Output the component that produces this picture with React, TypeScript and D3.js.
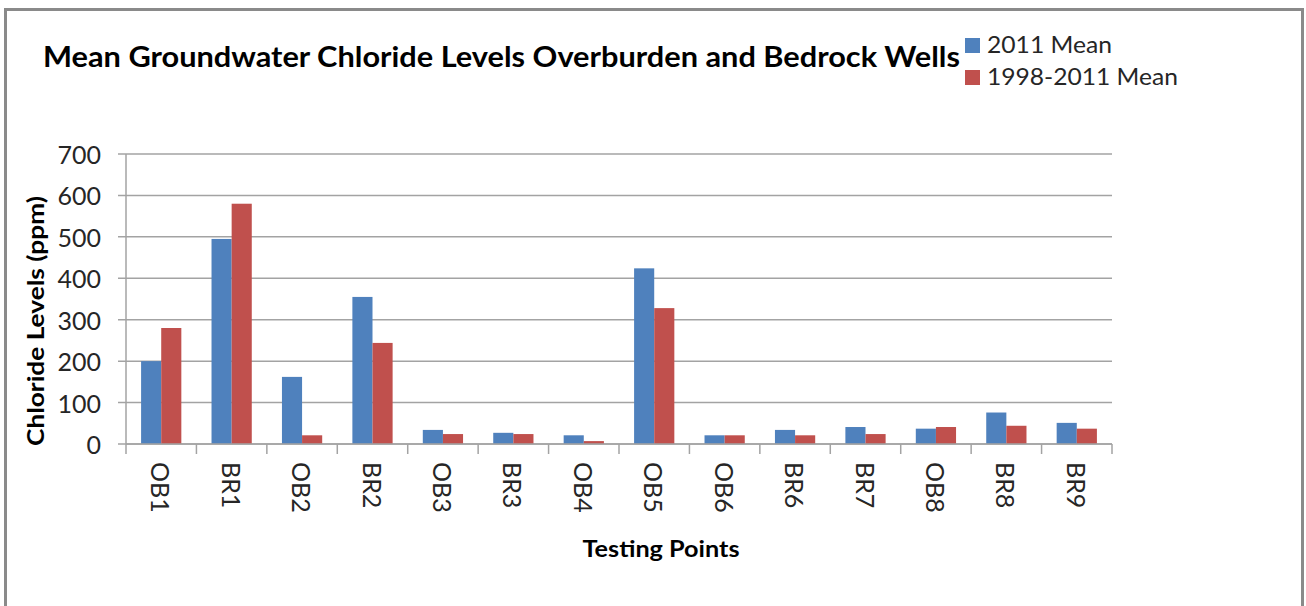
import React from "react";
import * as d3 from "d3";

const categories = ["OB1", "BR1", "OB2", "BR2", "OB3", "BR3", "OB4", "OB5", "OB6", "BR6", "BR7", "OB8", "BR8", "BR9"];
const seriesNames = ["2011 Mean", "1998-2011 Mean"];
const mean2011 = [200, 495, 162, 355, 34, 27, 21, 424, 21, 34, 41, 37, 76, 51];
const mean1998_2011 = [280, 580, 21, 244, 24, 24, 7, 328, 21, 21, 24, 41, 44, 37];
const yTicks = [0, 100, 200, 300, 400, 500, 600, 700];
const colors = ["#4F81BD", "#C0504D"];

const W = 1306;
const H = 606;
const FONT = "Lato, 'Open Sans', sans-serif";

export default function App() {
  const left = 126, right = 1112, top = 154, bottom = 444;
  const x0 = d3.scaleBand<string>().domain(categories).range([left, right]).padding(0);
  const x1 = d3.scaleBand<string>().domain(seriesNames).range([0, x0.bandwidth()]).paddingInner(0).paddingOuter(0.75);
  const y = d3.scaleLinear().domain([0, 700]).range([bottom, top]);
  const values = [mean2011, mean1998_2011];
  const gridColor = "#a3a3a3";

  return (
    <svg width={W} height={H} style={{ position: "absolute", left: 0, top: 0, background: "#fff" }} fontFamily={FONT}>
      <rect x={0} y={0} width={W} height={H} fill="#fff" />
      <rect x={5.5} y={9.5} width={1297} height={640} fill="none" stroke="#8a8a8a" strokeWidth={3} />

      {/* gridlines + y ticks */}
      {yTicks.map((t) => (
        <g key={t}>
          <line x1={118} x2={right} y1={y(t)} y2={y(t)} stroke={gridColor} strokeWidth={1.5} />
          <text x={101} y={y(t)} textAnchor="end" dominantBaseline="central" fontSize={25} fill="#262626">{t}</text>
        </g>
      ))}
      <line x1={left} x2={left} y1={top} y2={bottom + 10} stroke={gridColor} strokeWidth={1.5} />
      {/* x axis ticks */}
      {categories.map((c, i) => (
        <line key={"t" + c} x1={(x0(c) as number) + x0.bandwidth()} x2={(x0(c) as number) + x0.bandwidth()} y1={bottom} y2={bottom + 10} stroke={gridColor} strokeWidth={1.5} />
      ))}

      {/* bars */}
      {categories.map((c, i) => (
        <g key={c} transform={`translate(${x0(c)},0)`}>
          {seriesNames.map((s, k) => (
            <rect
              key={s}
              x={x1(s)}
              y={y(values[k][i])}
              width={x1.bandwidth()}
              height={bottom - y(values[k][i])}
              fill={colors[k]}
            />
          ))}
        </g>
      ))}
      <line x1={left} x2={right} y1={bottom} y2={bottom} stroke={gridColor} strokeWidth={1.5} />

      {/* x labels */}
      {categories.map((c) => {
        const cx = (x0(c) as number) + x0.bandwidth() / 2;
        return (
          <text key={"l" + c} transform={`translate(${cx},${462}) rotate(90)`} textAnchor="start" dominantBaseline="central" fontSize={25} fill="#262626">{c}</text>
        );
      })}

      {/* title */}
      <text x={43} y={67} fontSize={29} fontWeight="bold" fill="#000" textLength={917} lengthAdjust="spacingAndGlyphs">
        Mean Groundwater Chloride Levels Overburden and Bedrock Wells
      </text>

      {/* legend */}
      {seriesNames.map((s, k) => (
        <g key={"lg" + s}>
          <rect x={965} y={38 + k * 32} width={15} height={15} fill={colors[k]} />
          <text x={987} y={53 + k * 32} fontSize={23} fill="#262626" textLength={k === 0 ? 125 : 191} lengthAdjust="spacingAndGlyphs">{s}</text>
        </g>
      ))}

      {/* axis titles */}
      <text transform={`translate(35,${321}) rotate(-90)`} textAnchor="middle" dominantBaseline="central" fontSize={23} fontWeight="bold" fill="#000" textLength={250} lengthAdjust="spacingAndGlyphs">
        Chloride Levels (ppm)
      </text>
      <text x={661} y={557} textAnchor="middle" fontSize={22} fontWeight="bold" fill="#000" textLength={157} lengthAdjust="spacingAndGlyphs">
        Testing Points
      </text>
    </svg>
  );
}
